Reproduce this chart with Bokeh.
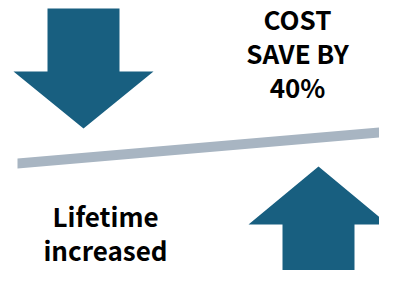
from bokeh.plotting import figure
from bokeh.models import Range1d
from bokeh.core.properties import value
from bokeh.embed import file_html
from bokeh.resources import INLINE

# Layout in picture-pixel units (y grows downward)
W, H = 379, 270
X0, Y0 = 0, 0

arrow_color = "#185F80"
line_color = "#A8B5C2"

# Down arrow (center x, top y, head-base y, tip y, shaft half width, head half width)
down_arrow = dict(cx=83, top=8, base=71, tip=128, shaft=36, head=70)
# Up arrow
up_arrow = dict(cx=318, bottom=290, base=224, tip=166, shaft=36, head=70)

# Slanted bar: left x, right x, left center y, right center y, thickness
bar_x = [17, 383]
bar_yc = [163, 131.5]
bar_t = 10

top_lines = ["COST", "SAVE BY", "40%"]
top_x = 297
top_y = [18, 52, 86]

bottom_lines = ["Lifetime", "increased"]
bottom_x = 105
bottom_y = [215, 249]

p = figure(width=W, height=H, output_backend="svg", toolbar_location=None,
           x_range=Range1d(X0, X0 + W), y_range=Range1d(Y0 + H, Y0),
           min_border=0)
p.axis.visible = False
p.grid.visible = False
p.outline_line_color = None
p.background_fill_color = "white"
p.border_fill_color = "white"

d = down_arrow
p.patch([d["cx"] - d["shaft"], d["cx"] + d["shaft"], d["cx"] + d["shaft"], d["cx"] + d["head"],
         d["cx"], d["cx"] - d["head"], d["cx"] - d["shaft"]],
        [d["top"], d["top"], d["base"], d["base"], d["tip"], d["base"], d["base"]],
        fill_color=arrow_color, line_color=None)

u = up_arrow
p.patch([u["cx"] - u["shaft"], u["cx"] + u["shaft"], u["cx"] + u["shaft"], u["cx"] + u["head"],
         u["cx"], u["cx"] - u["head"], u["cx"] - u["shaft"]],
        [u["bottom"], u["bottom"], u["base"], u["base"], u["tip"], u["base"], u["base"]],
        fill_color=arrow_color, line_color=None)

p.patch([bar_x[0], bar_x[1], bar_x[1], bar_x[0]],
        [bar_yc[0] - bar_t / 2, bar_yc[1] - bar_t / 2, bar_yc[1] + bar_t / 2, bar_yc[0] + bar_t / 2],
        fill_color=line_color, line_color=None)

font = value("Noto Sans CJK SC")
p.text(x=[top_x] * len(top_lines), y=top_y, text=top_lines,
       text_font=font, text_font_size="26px", text_font_style="bold",
       text_align="center", text_baseline="alphabetic", text_color="black")
p.text(x=[bottom_x] * len(bottom_lines), y=bottom_y, text=bottom_lines,
       text_font=font, text_font_size="26px", text_font_style="bold",
       text_align="center", text_baseline="alphabetic", text_color="black")

open("out.html", "w").write(file_html(p, INLINE))
